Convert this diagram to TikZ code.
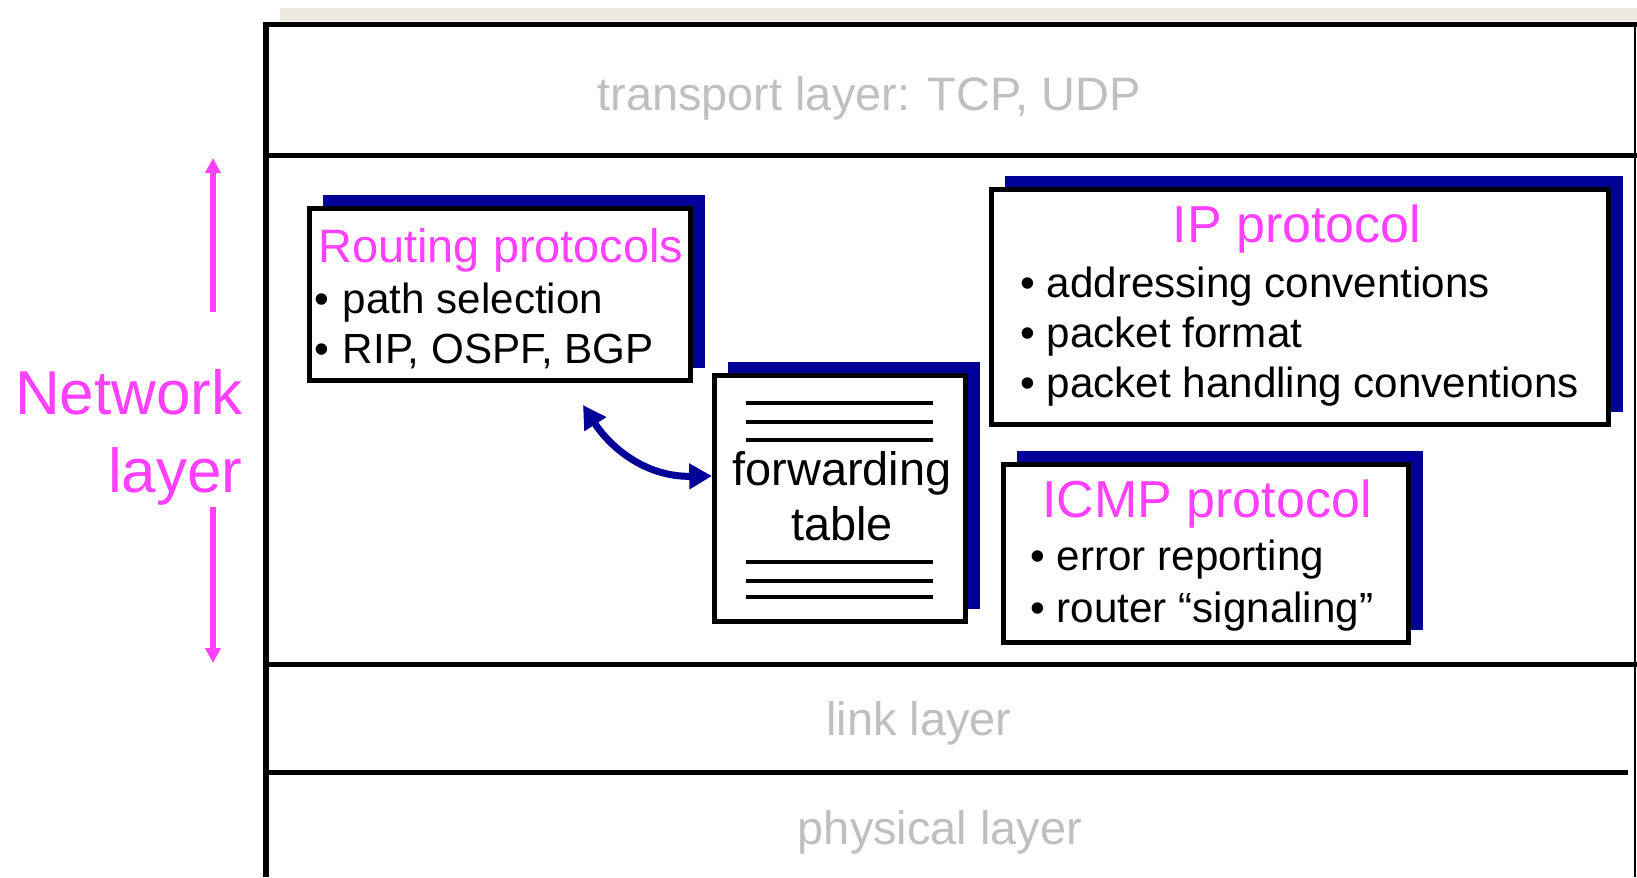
\documentclass[tikz,border=0pt]{standalone}
\usepackage{fontspec}
\setmainfont{Liberation Sans}
\usetikzlibrary{arrows.meta,shadows}

\definecolor{netpink}{HTML}{FF40FF}
\definecolor{shadeblue}{HTML}{000099}
\definecolor{laygray}{HTML}{BFBFBF}
\definecolor{stripbeige}{HTML}{EDEBE0}

\newcommand{\lyrfont}{\fontsize{26.7}{32}\selectfont}
\newcommand{\boxtitlefont}{\fontsize{29.6}{35}\selectfont}
\newcommand{\itemfont}{\fontsize{24}{28}\selectfont}
\newcommand{\netfont}{\fontsize{35.3}{42}\selectfont}

\tikzset{
  frame/.style={line width=2.85pt},
  layertxt/.style={text=laygray, font=\lyrfont, anchor=base, inner sep=0pt},
  card/.style={draw, fill=white, line width=2.56pt, inner sep=0pt,
    drop shadow={shadow xshift=0.28cm, shadow yshift=0.26cm, fill=shadeblue, opacity=1}},
  head/.style={text=netpink, inner sep=0pt},
  item/.style={anchor=base west, inner sep=0pt, font=\itemfont},
  tblrow/.style={line width=2.56pt},
  updown/.style={netpink, line width=2.85pt, -{Triangle[length=8.5pt,width=8.5pt]}},
  loopback/.style={shadeblue, line width=4pt,
    {Triangle[length=13pt,width=14pt]}-{Triangle[length=13pt,width=14pt]}}
}

\begin{document}
\begin{tikzpicture}[x=0.02cm, y=-0.02cm]
  \useasboundingbox (0,0) rectangle (1637,877);

  % layer frame
  \fill[stripbeige] (280,8) rectangle (1637,21);
  \draw[frame] (266,877) -- (266,24) -- (1637,24);
  \draw[line width=1.14pt] (1635,24) -- (1635,877);
  \draw[frame] (266,155) -- (1637,155);
  \draw[frame] (266,664) -- (1637,664);
  \draw[frame] (266,772) -- (1628,772);

  % other layers
  \node[layertxt] (tl) at (869,110) {transport layer: TCP, UDP};
  \node[layertxt] (ll) at (919,735) {link layer};
  \node[layertxt] (pl) at (940,844) {physical layer};

  % network layer label and arrows
  \node[head, anchor=base east, font=\netfont] (nw) at (243,414) {Network};
  \node[head, anchor=base east, font=\netfont] (nwl) at (243,492) {layer};
  \coordinate (upfoot) at (213,312);
  \coordinate (uptip) at (213,158);
  \coordinate (dnfoot) at (213,507);
  \coordinate (dntip) at (213,663);
  \draw[updown] (upfoot) -- (uptip);
  \draw[updown] (dnfoot) -- (dntip);

  % boxes
  \node[card, minimum width=7.63cm, minimum height=3.45cm] (rt) at (500,294.5) {};
  \node[card, minimum width=5.03cm, minimum height=4.93cm] (ft) at (840,498.5) {};
  \node[card, minimum width=12.35cm, minimum height=4.71cm] (ip) at (1300,307) {};
  \node[card, minimum width=8.11cm, minimum height=3.57cm] (icmp) at (1206,553.5) {};

  % routing protocols
  \node[head, anchor=base west, font=\lyrfont] (rth) at (318,262) {Routing protocols};
  \node[item] (rt1) at (314,313) {•\hspace{0.05em} path selection};
  \node[item] (rt2) at (314,363) {•\hspace{0.05em} RIP, OSPF, BGP};

  % forwarding table
  \node[anchor=base, inner sep=0pt, font=\lyrfont] (fw1) at (842,485) {forwarding};
  \node[anchor=base, inner sep=0pt, font=\lyrfont] (fw2) at (842,540) {table};
  \foreach \yy in {403,422,440,562,581,597}
    \draw[tblrow] (746,\yy) -- (933,\yy);

  % IP protocol
  \node[head, anchor=base, font=\boxtitlefont] (iph) at (1297,242) {IP protocol};
  \node[item] (ip1) at (1020,297) {• addressing conventions};
  \node[item] (ip2) at (1020,347) {• packet format};
  \node[item] (ip3) at (1020,397) {• packet handling conventions};

  % ICMP protocol
  \node[head, anchor=base, font=\boxtitlefont] (icmph) at (1207,517) {ICMP protocol};
  \node[item] (ic1) at (1030,570) {• error reporting};
  \node[item] (ic2) at (1030,622) {• router “signaling”};

  % routing <-> forwarding
  \coordinate (rtfoot) at (583,405);
  \draw[loopback] (rtfoot) .. controls (610,447) and (645,477) .. ([yshift=0.45cm]ft.west);

\end{tikzpicture}
\end{document}
